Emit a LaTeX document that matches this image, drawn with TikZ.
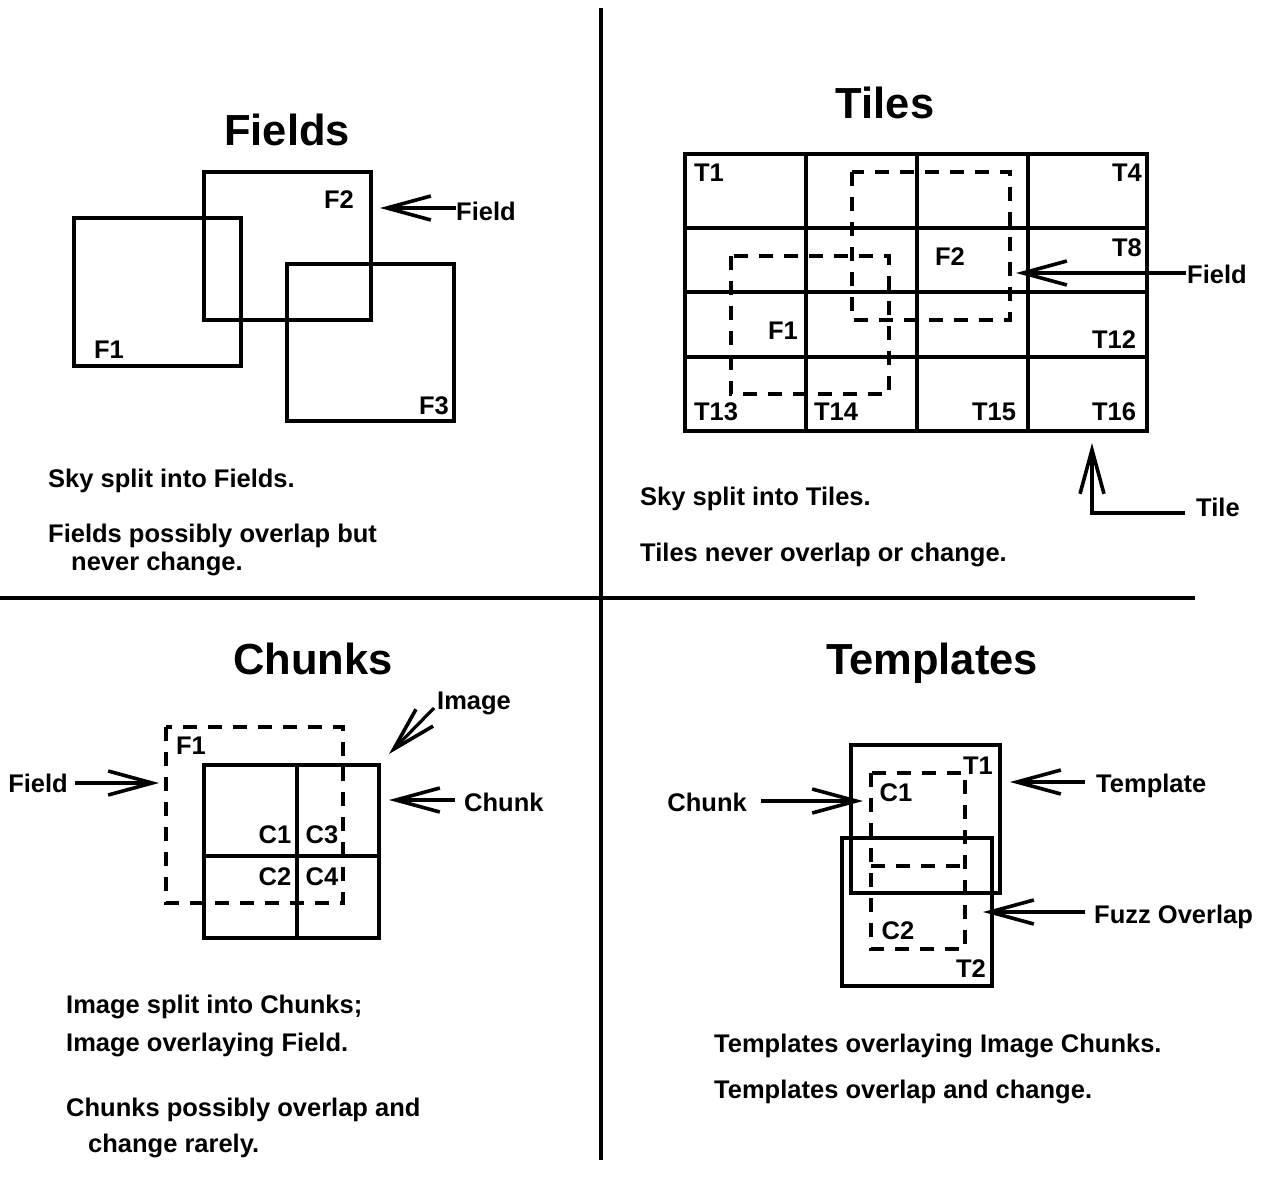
\documentclass[tikz,border=0pt]{standalone}
\usepackage{fontspec}
\setmainfont{Liberation Sans}
\usetikzlibrary{arrows.meta}
\begin{document}
\begin{tikzpicture}[x=1pt,y=-1pt,
  box/.style={draw, line width=3.2pt},
  dbox/.style={draw, line width=3.2pt, dash pattern=on 14pt off 11pt},
  ptr/.style={line width=3.2pt, -{Straight Barb[length=44pt,width=24pt,line width=3.6pt]}},
  lbl/.style={font=\fontsize{25.5}{30}\selectfont\bfseries, inner sep=0pt, anchor=base},
  txt/.style={lbl, anchor=base west},
  ttl/.style={font=\fontsize{43.5}{50}\selectfont\bfseries, inner sep=0pt, anchor=base},
  divider/.style={line width=3.6pt}]
\useasboundingbox (0,0) rectangle (1262,1188);
\fill[white] (0,0) rectangle (1262,1188);

% dividers
\coordinate (vtop) at (601,8);
\coordinate (vbot) at (601,1160);
\coordinate (hl) at (0,598);
\coordinate (hr) at (1195,598);
\draw[divider] (vtop) -- (vbot);
\draw[divider] (hl) -- (hr);

% ================= Fields =================
\node[ttl] (tFields) at (287,146) {Fields};
\draw[box] (74,218) rectangle (241,366);
\draw[box] (204,172) rectangle (371,320);
\draw[box] (287,264) rectangle (454,421);
\node[lbl] (fF1) at (109,358) {F1};
\node[lbl] (fF2) at (339,208) {F2};
\node[lbl] (fF3) at (434,414) {F3};
\node[txt] (fField) at (456,220) {Field};
\coordinate (fFieldTail) at (456,208);
\coordinate (fFieldTip) at (380,208);
\draw[ptr] (fFieldTail) -- (fFieldTip);
\node[txt] (fs1) at (48,487) {Sky split into Fields.};
\node[txt] (fs2) at (48,542) {Fields possibly overlap but};
\node[txt] (fs3) at (71,570) {never change.};

% ================= Tiles =================
\node[ttl] (tTiles) at (885,119) {Tiles};
\draw[box] (685,154) rectangle (1147,431);
\draw[line width=3.2pt] (806,154) -- (806,431) (917,154) -- (917,431) (1028,154) -- (1028,431)
  (685,228) -- (1147,228) (685,292) -- (1147,292) (685,357) -- (1147,357);
\draw[dbox] (852,172) rectangle (1010,320);
\draw[dbox] (731,256) rectangle (889,394);
\node[lbl] (tT1) at (709,182) {T1};
\node[lbl] (tT4) at (1127,182) {T4};
\node[lbl] (tT8) at (1127,256) {T8};
\node[lbl] (tF2) at (950,265) {F2};
\node[lbl] (tF1) at (783,339) {F1};
\node[lbl] (tT12) at (1114,348) {T12};
\node[lbl] (tT13) at (716,420) {T13};
\node[lbl] (tT14) at (836,420) {T14};
\node[lbl] (tT15) at (994,420) {T15};
\node[lbl] (tT16) at (1114,420) {T16};
\node[txt] (tField) at (1187,283) {Field};
\coordinate (tFieldTail) at (1186,273);
\coordinate (tFieldTip) at (1016,273);
\draw[ptr] (tFieldTail) -- (tFieldTip);
\node[txt] (tTile) at (1196,516) {Tile};
\coordinate (tTileTail) at (1185,513);
\coordinate (tTileTip) at (1092,443);
\draw[ptr] (tTileTail) -| (tTileTip);
\node[txt] (ts1) at (640,505) {Sky split into Tiles.};
\node[txt] (ts2) at (640,561) {Tiles never overlap or change.};

% ================= Chunks =================
\node[ttl] (tChunks) at (313,674) {Chunks};
\draw[box] (204,765) rectangle (379,938);
\draw[line width=3.2pt] (297,765) -- (297,938) (204,856) -- (379,856);
\draw[dbox] (166,727) rectangle (343,903);
\node[lbl] (cF1) at (191,754) {F1};
\node[lbl] (cC1) at (275,843) {C1};
\node[lbl] (cC3) at (322,843) {C3};
\node[lbl] (cC2) at (275,885) {C2};
\node[lbl] (cC4) at (322,885) {C4};
\node[lbl, anchor=base east] (cField) at (68,792) {Field};
\coordinate (cFieldTail) at (75,783);
\coordinate (cFieldTip) at (159,783);
\draw[ptr] (cFieldTail) -- (cFieldTip);
\node[txt] (cImage) at (437,709) {Image};
\coordinate (cImageTail) at (434,708);
\coordinate (cImageTip) at (389,754);
\draw[ptr] (cImageTail) -- (cImageTip);
\node[txt] (cChunk) at (464,811) {Chunk};
\coordinate (cChunkTail) at (455,800);
\coordinate (cChunkTip) at (389,800);
\draw[ptr] (cChunkTail) -- (cChunkTip);
\node[txt] (cs1) at (66,1013) {Image split into Chunks;};
\node[txt] (cs2) at (66,1051) {Image overlaying Field.};
\node[txt] (cs3) at (66,1116) {Chunks possibly overlap and};
\node[txt] (cs4) at (88,1152) {change rarely.};

% ================= Templates =================
\node[ttl] (tTemplates) at (932,674) {Templates};
\draw[box] (851,745) rectangle (1000,893);
\draw[box] (842,838) rectangle (992,986);
\draw[dbox] (871,773) rectangle (965,949);
\draw[dbox] (871,866) -- (961,866);
\node[lbl] (pT1) at (978,774) {T1};
\node[lbl] (pT2) at (971,977) {T2};
\node[lbl] (pC1) at (896,801) {C1};
\node[lbl] (pC2) at (898,939) {C2};
\node[lbl, anchor=base east] (pChunk) at (747,811) {Chunk};
\coordinate (pChunkTail) at (761,801);
\coordinate (pChunkTip) at (863,801);
\draw[ptr] (pChunkTail) -- (pChunkTip);
\node[txt] (pTemplate) at (1096,792) {Template};
\coordinate (pTemplateTail) at (1085,782);
\coordinate (pTemplateTip) at (1010,782);
\draw[ptr] (pTemplateTail) -- (pTemplateTip);
\node[txt] (pFuzz) at (1094,923) {Fuzz Overlap};
\coordinate (pFuzzTail) at (1085,912);
\coordinate (pFuzzTip) at (983,912);
\draw[ptr] (pFuzzTail) -- (pFuzzTip);
\node[txt] (ps1) at (714,1052) {Templates overlaying Image Chunks.};
\node[txt] (ps2) at (714,1098) {Templates overlap and change.};
\end{tikzpicture}
\end{document}
